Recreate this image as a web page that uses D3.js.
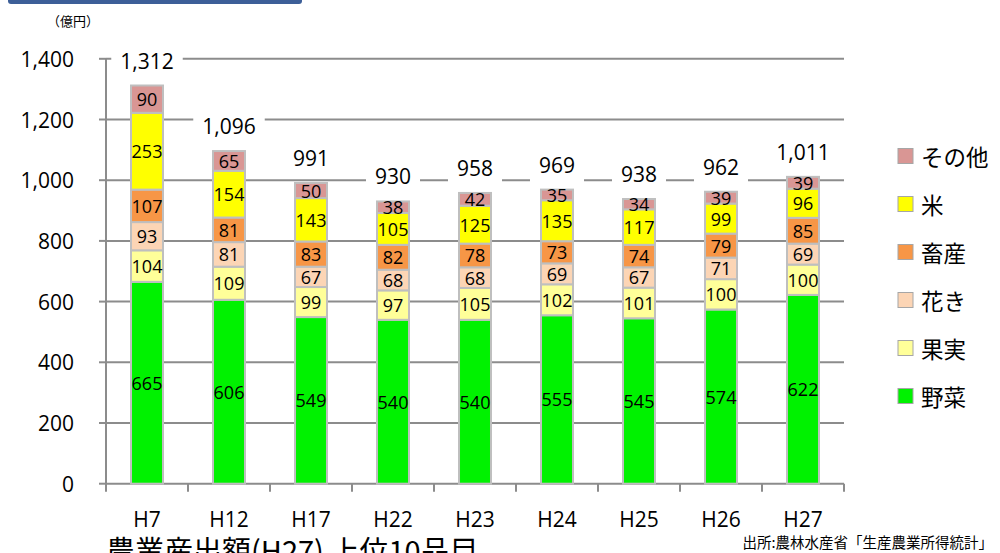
<!DOCTYPE html>
<html>
<head>
<meta charset="utf-8">
<script src="https://cdn.jsdelivr.net/npm/d3@7"></script>
<style>
  body { margin: 0; background: #fff; }
  svg { display: block; }
  .num { font-family: "Open Sans", "Liberation Sans", sans-serif; fill: #000; }
  .jp { font-family: "Noto Sans CJK JP", "Noto Sans", sans-serif; fill: #000; }
</style>
</head>
<body>
<div id="chart"></div>
<script>
// ----- dati (億円)
var categories = ["H7", "H12", "H17", "H22", "H23", "H24", "H25", "H26", "H27"];
var seriesNames = ["野菜", "果実", "花き", "畜産", "米", "その他"];
var vegetables = [665, 606, 549, 540, 540, 555, 545, 574, 622];
var fruit      = [104, 109, 99, 97, 105, 102, 101, 100, 100];
var flowers    = [93, 81, 67, 68, 68, 69, 67, 71, 69];
var livestock  = [107, 81, 83, 82, 78, 73, 74, 79, 85];
var rice       = [253, 154, 143, 105, 125, 135, 117, 99, 96];
var others     = [90, 65, 50, 38, 42, 35, 34, 39, 39];
var yTicks = [0, 200, 400, 600, 800, 1000, 1200, 1400];

var colors = ["#00f200", "#ffff99", "#fcd5b5", "#f79646", "#ffff00", "#d99694"];

var w = 1000;
var h = 553;

var svg = d3.select('#chart').append('svg').attr('width', w).attr('height', h);

// ----- tabella per lo stack
var table = categories.map(function (c, i) {
    return {
        cat: c,
        "野菜": vegetables[i],
        "果実": fruit[i],
        "花き": flowers[i],
        "畜産": livestock[i],
        "米": rice[i],
        "その他": others[i]
    };
});
var stacked = d3.stack().keys(seriesNames)(table);

var x = d3.scaleBand().domain(categories).range([106, 844]).paddingInner(0.61).paddingOuter(0.305);
var y = d3.scaleLinear().domain([0, 1400]).range([483.7, 58.8]);

// ----- barra blu in alto + titolo tagliato
svg.append('path')
    .attr('d', 'M8,0 L302,0 L302,1 Q302,4 299,4 L11,4 Q8,4 8,1 Z')
    .attr('fill', '#3d5f98');
svg.append('text').attr('class', 'jp')
    .attr('x', 520).attr('y', -4.5)
    .attr('text-anchor', 'middle')
    .attr('font-size', 30)
    .text('農業産出額の推移');

svg.append('text').attr('class', 'jp')
    .attr('x', 73).attr('y', 20)
    .attr('text-anchor', 'middle').attr('dominant-baseline', 'central')
    .attr('font-size', 13)
    .text('（億円）');

// ----- griglia
svg.append('g').selectAll('line').data(yTicks.filter(function (d) { return d > 0; }))
    .enter().append('line')
    .attr('x1', 106).attr('x2', 844)
    .attr('y1', function (d) { return y(d); }).attr('y2', function (d) { return y(d); })
    .attr('stroke', '#8c8c8c').attr('stroke-width', 2);

// ----- asse y
var yAxis = svg.append('g');
yAxis.append('line').attr('x1', 106).attr('x2', 106).attr('y1', y(1400)).attr('y2', y(0))
    .attr('stroke', '#8c8c8c').attr('stroke-width', 2);
yAxis.selectAll('line.tk').data(yTicks).enter().append('line').attr('class', 'tk')
    .attr('x1', 99).attr('x2', 106)
    .attr('y1', function (d) { return y(d); }).attr('y2', function (d) { return y(d); })
    .attr('stroke', '#8c8c8c').attr('stroke-width', 2);
yAxis.selectAll('text').data(yTicks).enter().append('text').attr('class', 'num')
    .attr('x', 74).attr('y', function (d) { return y(d); })
    .attr('text-anchor', 'end').attr('dominant-baseline', 'central')
    .attr('font-size', 21)
    .text(d3.format(','));

// ----- asse x
var step = x.step();
var bounds = categories.map(function (c) { return x(c) + x.bandwidth() / 2 - step / 2; });
bounds.push(bounds[bounds.length - 1] + step);
var xAxis = svg.append('g');
xAxis.append('line').attr('x1', 106).attr('x2', 844).attr('y1', y(0)).attr('y2', y(0))
    .attr('stroke', '#8c8c8c').attr('stroke-width', 2);
xAxis.selectAll('line.tk').data(bounds).enter().append('line').attr('class', 'tk')
    .attr('x1', function (d) { return d; }).attr('x2', function (d) { return d; })
    .attr('y1', y(0)).attr('y2', y(0) + 8)
    .attr('stroke', '#8c8c8c').attr('stroke-width', 2);
xAxis.selectAll('text').data(categories).enter().append('text').attr('class', 'num')
    .attr('x', function (d) { return x(d) + x.bandwidth() / 2; })
    .attr('y', 519)
    .attr('text-anchor', 'middle').attr('dominant-baseline', 'central')
    .attr('font-size', 21)
    .text(function (d) { return d; });

// ----- barre impilate
var layers = svg.append('g').selectAll('g').data(stacked).enter().append('g')
    .attr('fill', function (d, i) { return colors[i]; });

layers.selectAll('rect').data(function (d) { return d; }).enter().append('rect')
    .attr('x', function (d) { return x(d.data.cat); })
    .attr('width', x.bandwidth())
    .attr('y', function (d) { return y(d[1]); })
    .attr('height', function (d) { return y(d[0]) - y(d[1]); })
    .attr('stroke', '#bfbfbf').attr('stroke-width', 2);

layers.selectAll('text').data(function (d) { return d; }).enter().append('text').attr('class', 'num')
    .attr('x', function (d) { return x(d.data.cat) + x.bandwidth() / 2; })
    .attr('y', function (d) { return (y(d[0]) + y(d[1])) / 2; })
    .attr('text-anchor', 'middle').attr('dominant-baseline', 'central')
    .attr('font-size', 18)
    .text(function (d) { return d[1] - d[0]; });

// ----- totali con sfondo bianco
var totals = table.map(function (d) {
    return { cat: d.cat, sum: d3.sum(seriesNames, function (k) { return d[k]; }) };
});
var totalG = svg.append('g').selectAll('g').data(totals).enter().append('g')
    .attr('transform', function (d) {
        return 'translate(' + (x(d.cat) + x.bandwidth() / 2) + ',' + (y(d.sum) - 25) + ')';
    });
totalG.append('text').attr('class', 'num')
    .attr('text-anchor', 'middle').attr('dominant-baseline', 'central')
    .attr('font-size', 21)
    .text(function (d) { return d3.format(',')(d.sum); });
totalG.each(function () {
    var g = d3.select(this);
    var bw = g.select('text').node().getComputedTextLength();
    g.insert('rect', 'text')
        .attr('x', -bw / 2 - 9).attr('y', -18)
        .attr('width', bw + 18).attr('height', 36)
        .attr('fill', '#fff');
});

// ----- legenda
var legendOrder = seriesNames.slice().reverse();
var legend = svg.append('g').selectAll('g').data(legendOrder).enter().append('g')
    .attr('transform', function (d, i) { return 'translate(898,' + (156 + i * 48) + ')'; });
legend.append('rect')
    .attr('x', 0).attr('y', -7.5).attr('width', 15).attr('height', 15)
    .attr('fill', function (d) { return colors[seriesNames.indexOf(d)]; })
    .attr('stroke', '#a6a6a6').attr('stroke-width', 1);
legend.append('text').attr('class', 'jp')
    .attr('x', 23).attr('y', 0)
    .attr('dominant-baseline', 'central')
    .attr('font-size', 22.5)
    .text(function (d) { return d; });

// ----- testi in basso
svg.append('text').attr('class', 'jp')
    .attr('x', 106).attr('y', 562)
    .attr('font-size', 29)
    .text('農業産出額(H27) 上位10品目');

svg.append('text').attr('class', 'jp')
    .attr('x', 993).attr('y', 541)
    .attr('text-anchor', 'end').attr('dominant-baseline', 'central')
    .attr('font-size', 14.5)
    .text('出所:農林水産省「生産農業所得統計」');
</script>
</body>
</html>
